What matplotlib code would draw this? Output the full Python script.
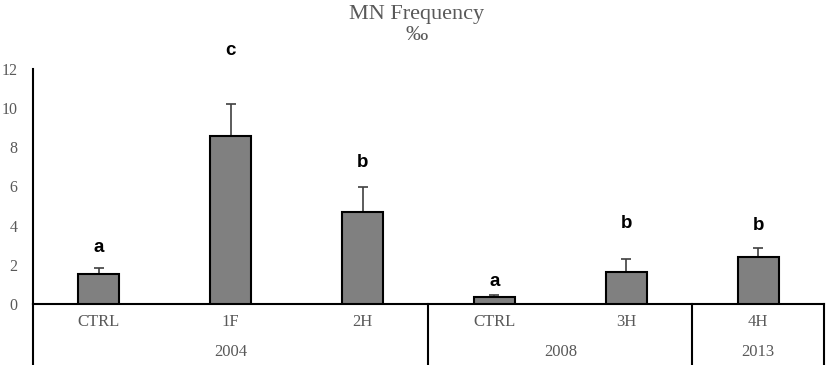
import matplotlib
matplotlib.use("Agg")
import matplotlib.pyplot as plt

categories = ["CTRL", "1F", "2H", "CTRL", "3H", "4H"]
values = [1.53, 8.58, 4.68, 0.36, 1.62, 2.40]
errors = [0.31, 1.62, 1.28, 0.12, 0.69, 0.44]
letters = ["a", "c", "b", "a", "b", "b"]
letter_y = [2.67, 12.72, 7.01, 0.92, 3.90, 3.78]
years = ["2004", "2008", "2013"]
year_spans = [(0, 2), (3, 4), (5, 5)]
yticks = [0, 2, 4, 6, 8, 10, 12]

W, H = 829, 365
fig = plt.figure(figsize=(W / 100, H / 100), dpi=100)
ax_left, ax_right = 33 / W, 824 / W
ax_bottom, ax_top = 1 - 304 / H, 1 - 69 / H
ax = fig.add_axes([ax_left, ax_bottom, ax_right - ax_left, ax_top - ax_bottom])

x = list(range(len(categories)))
ax.bar(x, values, width=0.31, color="#808080", edgecolor="black", linewidth=1.5, zorder=3)
ax.errorbar(x, values, yerr=[[0] * len(errors), errors], fmt="none",
            ecolor="#404040", elinewidth=1.2, capsize=3.5, capthick=1.2, zorder=2)

ax.set_xlim(-0.5, len(categories) - 0.5)
ax.set_ylim(0, 12)
ax.set_yticks(yticks)
serif = "Liberation Serif"
ax.set_yticklabels([str(t) for t in yticks], family=serif, fontsize=11.5, color="#595959")
ax.tick_params(axis="y", length=0, pad=11)
ax.set_xticks([])
for s in ["top", "right", "left"]:
    ax.spines[s].set_visible(False)
ax.spines["bottom"].set_linewidth(1.5)
ax.spines["bottom"].set_color("black")

# significance letters
for xi, lt, ly in zip(x, letters, letter_y):
    ax.text(xi, ly, lt, ha="center", va="baseline", fontsize=13.5, fontweight="bold",
            family="Liberation Sans", color="black", clip_on=False)

# category labels below axis
trans = ax.get_xaxis_transform()
axh = 304 - 69
cat_y = -(322.5 - 304) / axh
year_y = -(352 - 304) / axh
bot_y = -(365 - 304) / axh
for xi, c in zip(x, categories):
    ax.text(xi, cat_y, c, ha="center", va="center", family=serif, fontsize=12,
            color="#595959", transform=trans)

# group dividers and year labels
dividers = [-0.5] + [e + 0.5 for (_, e) in year_spans]
for d in dividers:
    ax.plot([d, d], [bot_y, 0], transform=trans, color="black", linewidth=1.5, clip_on=False)
ax.plot([-0.5, -0.5], [0, 1], transform=trans, color="black", linewidth=1.5, clip_on=False)
for yr, (s, e) in zip(years, year_spans):
    ax.text((s + e) / 2, year_y, yr, ha="center", va="center", family=serif, fontsize=12,
            color="#595959", transform=trans)

# title
fig.text(417 / W, 1 - 14 / H, "MN Frequency", ha="center", va="center", family=serif,
         fontsize=16, color="#595959")
fig.text(417 / W, 1 - 35 / H, "‰", ha="center", va="center", family=serif,
         fontsize=16, color="#595959")

fig.savefig("out.png", dpi=100)
